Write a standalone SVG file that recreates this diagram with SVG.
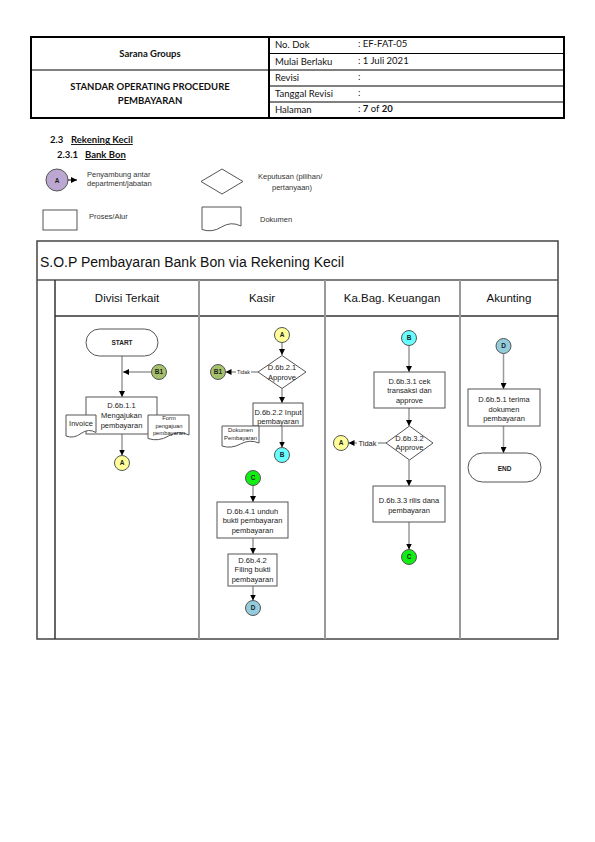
<svg xmlns="http://www.w3.org/2000/svg" width="595" height="842" viewBox="0 0 595 842">
<style>
.hdr{font-family:"Lato","Liberation Sans",sans-serif;font-size:9.5px;fill:#111}
.hb{font-weight:bold}
.sec{font-family:"Lato","Liberation Sans",sans-serif;font-size:9.5px;font-weight:bold;fill:#111}
.lg{font-family:"Liberation Sans",Arial,sans-serif;font-size:7.5px;fill:#333}
.t{font-family:"Liberation Sans",Arial,sans-serif;font-size:7.5px;fill:#222;text-anchor:middle}
.ts{font-family:"Liberation Sans",Arial,sans-serif;font-size:5.8px;fill:#222;text-anchor:middle}
.cl{font-family:"Liberation Sans",Arial,sans-serif;font-size:6.5px;font-weight:bold;fill:#222;text-anchor:middle}
.lane{font-family:"Liberation Sans",Arial,sans-serif;font-size:11.5px;fill:#111;text-anchor:middle}
.box{fill:#fff;stroke:#555;stroke-width:1}
.cir{stroke:#555;stroke-width:1}
.con{fill:none;stroke:#9a9a9a;stroke-width:1.5}
.grid{stroke:#999;stroke-width:2}
.dark{stroke:#333;stroke-width:1.5}
</style>
<defs>
<marker id="ah" markerWidth="6" markerHeight="6" refX="6" refY="3" orient="auto" markerUnits="userSpaceOnUse">
<path d="M0,0 L6,3 L0,6 Z" fill="#000"/>
</marker>
</defs>

<!-- Header table -->
<g id="header">
<rect x="31" y="37" width="533" height="81" fill="none" stroke="#000" stroke-width="2"/>
<line x1="269" y1="37" x2="269" y2="118" stroke="#000" stroke-width="2"/>
<line x1="31" y1="70" x2="269" y2="70" stroke="#000" stroke-width="1"/>
<line x1="269" y1="53.5" x2="564" y2="53.5" stroke="#000" stroke-width="1"/>
<line x1="269" y1="70" x2="564" y2="70" stroke="#000" stroke-width="1"/>
<line x1="269" y1="86" x2="564" y2="86" stroke="#000" stroke-width="1"/>
<line x1="269" y1="102" x2="564" y2="102" stroke="#000" stroke-width="1"/>
<text class="hdr hb" x="150" y="57" text-anchor="middle">Sarana Groups</text>
<text class="hdr hb" x="150" y="90" text-anchor="middle">STANDAR OPERATING PROCEDURE</text>
<text class="hdr hb" x="150" y="104" text-anchor="middle">PEMBAYARAN</text>
<text class="hdr" x="275" y="48">No. Dok</text>
<text class="hdr" x="275" y="65">Mulai Berlaku</text>
<text class="hdr" x="275" y="81">Revisi</text>
<text class="hdr" x="275" y="97">Tanggal Revisi</text>
<text class="hdr" x="275" y="113">Halaman</text>
<text class="hdr" x="358" y="47">: EF-FAT-05</text>
<text class="hdr" x="358" y="64">: 1 Juli 2021</text>
<text class="hdr" x="358" y="80">:</text>
<text class="hdr" x="358" y="96">:</text>
<text class="hdr" x="358" y="112">: <tspan class="hb">7</tspan> of <tspan class="hb">20</tspan></text>
</g>

<!-- Section headings -->
<g id="headings">
<text class="sec" x="50" y="143">2.3</text>
<text class="sec" x="71" y="143" text-decoration="underline">Rekening Kecil</text>
<text class="sec" x="57" y="158">2.3.1</text>
<text class="sec" x="85" y="158" text-decoration="underline">Bank Bon</text>
</g>

<!-- Legend -->
<g id="legend">
<circle cx="57" cy="180" r="11" fill="#bca7d3" class="cir"/>
<text class="cl" x="57" y="182.5">A</text>
<line x1="68" y1="180" x2="77" y2="180" stroke="#000" stroke-width="1" marker-end="url(#ah)"/>
<text class="lg" x="87" y="177">Penyambung antar</text>
<text class="lg" x="87" y="186">department/jabatan</text>
<path d="M201,181.5 L222,169 L243,181.5 L222,194 Z" class="box"/>
<text class="lg" x="258" y="179">Keputusan (pilihan/</text>
<text class="lg" x="272" y="190">pertanyaan)</text>
<rect x="43" y="210" width="34" height="20" class="box"/>
<text class="lg" x="89" y="219">Proses/Alur</text>
<path d="M202,207 H241 V226 Q231,221 221.5,227 Q212,233 202,229.5 Z" class="box"/>
<text class="lg" x="260" y="222">Dokumen</text>
</g>

<!-- Swimlane frame -->
<g id="swimlane">
<rect x="37" y="241" width="521" height="398" fill="#fff" stroke="#444" stroke-width="1.5"/>
<line x1="37" y1="280" x2="558" y2="280" stroke="#555" stroke-width="1.5"/>
<line x1="55" y1="316" x2="558" y2="316" class="dark"/>
<line x1="55" y1="280" x2="55" y2="639" class="dark"/>
<line x1="199" y1="280" x2="199" y2="639" class="grid"/>
<line x1="325" y1="280" x2="325" y2="639" class="grid"/>
<line x1="460" y1="280" x2="460" y2="639" class="grid"/>
<text x="40" y="267" font-family="Liberation Sans, Arial, sans-serif" font-size="14" fill="#111">S.O.P Pembayaran Bank Bon via Rekening Kecil</text>
<text class="lane" x="127" y="302">Divisi Terkait</text>
<text class="lane" x="262" y="302">Kasir</text>
<text class="lane" x="392" y="302">Ka.Bag. Keuangan</text>
<text class="lane" x="509" y="302">Akunting</text>
</g>

<!-- Connectors -->
<g id="connectors">
<path class="con" d="M122,356 V397" marker-end="url(#ah)"/>
<path class="con" d="M151.5,372 H123" marker-end="url(#ah)"/>
<path class="con" d="M122,434 V455.5" marker-end="url(#ah)"/>
<path class="con" d="M282,342.5 V355" marker-end="url(#ah)"/>
<path class="con" d="M258,372 H225.5" marker-end="url(#ah)"/>
<path class="con" d="M282,388.5 V403" marker-end="url(#ah)"/>
<path class="con" d="M282,426 V447.5" marker-end="url(#ah)"/>
<path class="con" d="M253,485.5 V502" marker-end="url(#ah)"/>
<path class="con" d="M253,538 V554" marker-end="url(#ah)"/>
<path class="con" d="M253,586 V600.5" marker-end="url(#ah)"/>
<path class="con" d="M409,345.5 V372" marker-end="url(#ah)"/>
<path class="con" d="M409,408 V426" marker-end="url(#ah)"/>
<path class="con" d="M386,443 H348.5" marker-end="url(#ah)"/>
<path class="con" d="M409,460 V486" marker-end="url(#ah)"/>
<path class="con" d="M409,522 V549.5" marker-end="url(#ah)"/>
<path class="con" d="M503.5,353.5 V389" marker-end="url(#ah)"/>
<path class="con" d="M503.5,426 V453" marker-end="url(#ah)"/>
<rect x="236" y="368" width="15" height="7" fill="#fff"/>
<text x="243.5" y="374" font-family="Liberation Sans, Arial, sans-serif" font-size="5.3" fill="#222" text-anchor="middle">Tidak</text>
<rect x="357" y="439" width="21" height="8" fill="#fff"/>
<text x="367.5" y="445.5" font-family="Liberation Sans, Arial, sans-serif" font-size="7.5" fill="#222" text-anchor="middle">Tidak</text>
</g>

<!-- Divisi Terkait -->
<g id="start">
<rect x="86" y="329" width="72" height="27" rx="13.5" class="box"/>
<text class="cl" x="122" y="345">START</text>
</g>
<g id="b1-divisi">
<circle cx="159" cy="372" r="7.5" fill="#a6c16c" class="cir"/>
<text class="cl" x="159" y="374.3">B1</text>
</g>
<g id="d6b11">
<rect x="86" y="397" width="71" height="37" class="box"/>
<text class="t" x="121.5" y="408">D.6b.1.1</text>
<text class="t" x="121.5" y="418">Mengajukan</text>
<text class="t" x="121.5" y="428">pembayaran</text>
</g>
<g id="doc-invoice">
<path d="M66,415 H96 V432.5 Q88.5,428 81,433.5 Q73.5,439 66,436 Z" class="box"/>
<text class="t" x="81" y="426">Invoice</text>
</g>
<g id="doc-form">
<path d="M148,415 H189 V435 Q178.75,430 168.5,436 Q158.25,442 148,438.5 Z" class="box"/>
<text class="ts" x="169" y="420">Form</text>
<text class="ts" x="169" y="428">pengajuan</text>
<text class="ts" x="169" y="435">pembayaran</text>
</g>
<g id="a-divisi">
<circle cx="122" cy="463" r="7.5" fill="#ffff99" class="cir"/>
<text class="cl" x="122" y="465.3">A</text>
</g>

<!-- Kasir -->
<g id="a-kasir">
<circle cx="282" cy="335" r="7.5" fill="#ffff99" class="cir"/>
<text class="cl" x="282" y="337.3">A</text>
</g>
<g id="d6b21">
<path d="M258,372 L282,355.5 L306,372 L282,388.5 Z" class="box"/>
<text class="t" x="282" y="369.5">D.6b.2.1</text>
<text class="t" x="282" y="380">Approve</text>
</g>
<g id="b1-kasir">
<circle cx="218" cy="372" r="7.5" fill="#a6c16c" class="cir"/>
<text class="cl" x="218" y="374.3">B1</text>
</g>
<g id="d6b22">
<rect x="253" y="403" width="50" height="23" class="box"/>
<text class="t" x="278" y="414.5">D.6b.2.2 Input</text>
<text class="t" x="278" y="423.5">pembayaran</text>
</g>
<g id="doc-pembayaran">
<path d="M222,426 H259 V443 Q249.75,439 240.5,444 Q231.25,449 222,446 Z" class="box"/>
<text class="ts" x="240.5" y="432">Dokumen</text>
<text class="ts" x="240.5" y="439.5">Pembayaran</text>
</g>
<g id="b-kasir">
<circle cx="282" cy="455" r="7.5" fill="#66ffff" class="cir"/>
<text class="cl" x="282" y="457.3">B</text>
</g>
<g id="c-kasir">
<circle cx="253" cy="478" r="7.5" fill="#11ee11" class="cir"/>
<text class="cl" x="253" y="480.3">C</text>
</g>
<g id="d6b41">
<rect x="217" y="502" width="71" height="36" class="box"/>
<text class="t" x="252.5" y="513.5">D.6b.4.1 unduh</text>
<text class="t" x="252.5" y="523">bukti pembayaran</text>
<text class="t" x="252.5" y="532.5">pembayaran</text>
</g>
<g id="d6b42">
<rect x="228" y="554" width="49" height="32" class="box"/>
<text class="t" x="252.5" y="562.5">D.6b.4.2</text>
<text class="t" x="252.5" y="572">Filing bukti</text>
<text class="t" x="252.5" y="581.5">pembayaran</text>
</g>
<g id="d-kasir">
<circle cx="253" cy="608" r="7.5" fill="#93cddd" class="cir"/>
<text class="cl" x="253" y="610.3">D</text>
</g>

<!-- Ka.Bag. Keuangan -->
<g id="b-keu">
<circle cx="409" cy="338" r="7.5" fill="#66ffff" class="cir"/>
<text class="cl" x="409" y="340.3">B</text>
</g>
<g id="d6b31">
<rect x="374" y="372" width="71" height="36" class="box"/>
<text class="t" x="409.5" y="383.5">D.6b.3.1 cek</text>
<text class="t" x="409.5" y="393">transaksi dan</text>
<text class="t" x="409.5" y="402.5">approve</text>
</g>
<g id="d6b32">
<path d="M386,443 L409.5,426 L433,443 L409.5,460 Z" class="box"/>
<text class="t" x="409.5" y="440.5">D.6b.3.2</text>
<text class="t" x="409.5" y="450">Approve</text>
</g>
<g id="a-keu">
<circle cx="341" cy="443" r="7.5" fill="#ffff99" class="cir"/>
<text class="cl" x="341" y="445.3">A</text>
</g>
<g id="d6b33">
<rect x="373" y="486" width="72" height="36" class="box"/>
<text class="t" x="409" y="502.5">D.6b.3.3 rilis dana</text>
<text class="t" x="409" y="512.5">pembayaran</text>
</g>
<g id="c-keu">
<circle cx="409" cy="557" r="7.5" fill="#11ee11" class="cir"/>
<text class="cl" x="409" y="559.3">C</text>
</g>

<!-- Akunting -->
<g id="d-akunting">
<circle cx="503.5" cy="346" r="7.5" fill="#93cddd" class="cir"/>
<text class="cl" x="503.5" y="348.3">D</text>
</g>
<g id="d6b51">
<rect x="468" y="389" width="72" height="37" class="box"/>
<text class="t" x="504" y="402">D.6b.5.1 terima</text>
<text class="t" x="504" y="411.5">dokumen</text>
<text class="t" x="504" y="421">pembayaran</text>
</g>
<g id="end">
<rect x="468" y="453" width="73" height="29" rx="14.5" class="box"/>
<text class="cl" x="504.5" y="470.5">END</text>
</g>
</svg>
